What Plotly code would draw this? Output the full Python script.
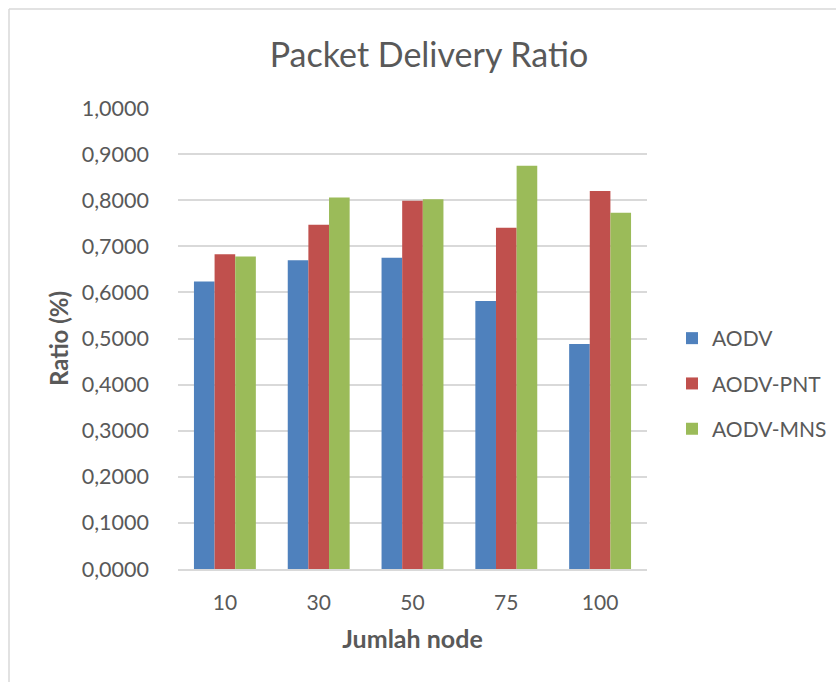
import plotly.graph_objects as go

categories = ["10", "30", "50", "75", "100"]
aodv = [0.6235, 0.6700, 0.6750, 0.5816, 0.4880]
aodv_pnt = [0.6830, 0.7470, 0.7990, 0.7400, 0.8200]
aodv_mns = [0.6780, 0.8060, 0.8020, 0.8750, 0.7726]
y_ticks = [i / 10 for i in range(11)]

W, H = 836, 682
PL, PR, PT, PB = 178, 647, 108, 569  # plot area in pixels
FONT = "Lato"
GRAY = "#595959"


def px_x(x):
    return (x - PL) / (PR - PL)


def px_y(y):
    return (PB - y) / (PB - PT)


fig = go.Figure()
fig.add_bar(name="AODV", x=categories, y=aodv, legendgroup="a",
            marker=dict(color="#4F81BD", line=dict(width=0)))
fig.add_bar(name="AODV-PNT", x=categories, y=aodv_pnt, legendgroup="b",
            marker=dict(color="#C0504D", line=dict(width=0)))
fig.add_bar(name="AODV-MNS", x=categories, y=aodv_mns, legendgroup="c",
            marker=dict(color="#9BBB59", line=dict(width=0)))

fig.update_layout(
    width=W, height=H,
    barmode="group", bargap=0.34, bargroupgap=0,
    separators=",.",
    paper_bgcolor="white", plot_bgcolor="white",
    margin=dict(l=PL, r=W - PR, t=PT, b=H - PB, pad=0, autoexpand=False),
    font=dict(family=FONT, color=GRAY, size=21),
    title=dict(text="Packet Delivery Ratio", x=429 / W, xanchor="center", y=1 - 55 / H, yanchor="middle",
               font=dict(family=FONT, size=34, color=GRAY)),
    showlegend=True,
    legend=dict(x=px_x(672), xanchor="left", y=px_y(318), yanchor="top",
                font=dict(family=FONT, size=21, color=GRAY), traceorder="grouped", tracegroupgap=15,
                itemwidth=30, bgcolor="rgba(0,0,0,0)"),
    xaxis=dict(
        type="category", showgrid=False, zeroline=False, showline=True,
        linecolor="#d9d9d9", linewidth=1.5, ticks="", ticklabelstandoff=14,
        tickfont=dict(family=FONT, size=21, color=GRAY),
        title=dict(text="<b>Jumlah node</b>", font=dict(family=FONT, size=25, color=GRAY), standoff=18),
    ),
    yaxis=dict(
        range=[0, 1], tickvals=y_ticks, tickformat=".4f", showgrid=True,
        gridcolor="#d9d9d9", gridwidth=1.5, zeroline=False, showline=False, ticks="",
        ticklabelstandoff=28,
        tickfont=dict(family=FONT, size=21.5, color=GRAY),
        title=dict(text="<b>Ratio (%)</b>", font=dict(family=FONT, size=24, color=GRAY), standoff=6),
    ),
    shapes=[
        dict(type="line", xref="paper", yref="paper", x0=px_x(9), x1=px_x(9), y0=px_y(H + 5), y1=px_y(9),
             line=dict(color="#d9d9d9", width=1.5)),
        dict(type="line", xref="paper", yref="paper", x0=px_x(9), x1=px_x(W + 5), y0=px_y(9), y1=px_y(9),
             line=dict(color="#d9d9d9", width=1.5)),
    ],
)

fig.write_html("out.html")
